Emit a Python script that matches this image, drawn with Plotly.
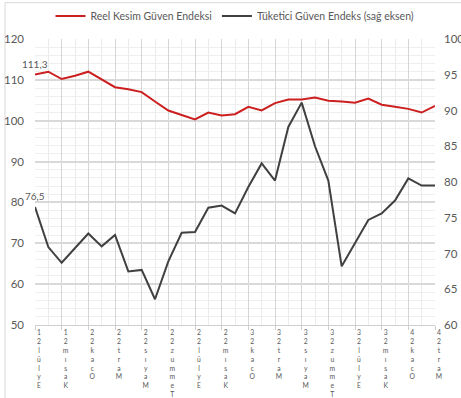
import plotly.graph_objects as go

# Monthly observations, Eylül 2021 – Mart 2024
months = list(range(31))

reel_kesim = [111.3, 112.0, 110.2, 111.0, 112.0, 110.2, 108.2, 107.7, 107.0, 104.7,
              102.5, 101.4, 100.3, 102.0, 101.3, 101.6, 103.4, 102.5, 104.3, 105.2,
              105.2, 105.7, 104.9, 104.7, 104.4, 105.4, 103.9, 103.4, 102.9, 102.0,
              103.6]

tuketici = [76.5, 70.9, 68.7, 70.8, 72.8, 71.0, 72.6, 67.5, 67.7, 63.6,
            68.9, 72.9, 73.0, 76.4, 76.7, 75.6, 79.3, 82.6, 80.2, 87.7,
            91.1, 85.0, 80.2, 68.2, 71.5, 74.7, 75.6, 77.4, 80.5, 79.5,
            79.5]

# Axis labels every two months
tick_months = list(range(0, 31, 2))
tick_labels = ["Eylül 21", "Kasım 21", "Ocak 22", "Mart 22", "Mayıs 22", "Temmuz 22",
               "Eylül 22", "Kasım 22", "Ocak 23", "Mart 23", "Mayıs 23", "Temmuz 23",
               "Eylül 23", "Kasım 23", "Ocak 24", "Mart 24"]


def stacked(label):
    # vertical label, read from bottom to top, one glyph per line
    chars = [c for c in label[::-1] if c != " "]
    return "<br>".join(chars)


def tr_number(v):
    return f"{v:.1f}".replace(".", ",")


font_family = "Lato, 'Open Sans', sans-serif"
text_grey = "#595959"

fig = go.Figure()

fig.add_trace(go.Scatter(
    x=months, y=reel_kesim, name="Reel Kesim Güven Endeksi",
    mode="lines", line=dict(color="#cc1f1f", width=2),
))

fig.add_trace(go.Scatter(
    x=months, y=tuketici, name="Tüketici Güven Endeks (sağ eksen)",
    mode="lines", yaxis="y2", line=dict(color="#404040", width=2),
))

# value labels on the first observation of each series
value_labels = [
    dict(x=months[0], y=reel_kesim[0], yref="y", text=tr_number(reel_kesim[0])),
    dict(x=months[0], y=tuketici[0], yref="y2", text=tr_number(tuketici[0])),
]
annotations = [
    dict(xref="x", showarrow=False, yshift=11,
         font=dict(size=10, color=text_grey, family=font_family), **lab)
    for lab in value_labels
]

fig.update_layout(
    width=461, height=398,
    margin=dict(l=35, r=26, t=39, b=73, autoexpand=False),
    paper_bgcolor="white", plot_bgcolor="white",
    font=dict(family=font_family, color=text_grey, size=11),
    showlegend=True,
    legend=dict(orientation="h", x=0.5, xanchor="center", y=1.08, yanchor="middle",
                font=dict(size=10.5, color=text_grey), itemwidth=30,
                bgcolor="rgba(0,0,0,0)"),
    annotations=annotations,
    xaxis=dict(
        range=[0, 30], tickvals=tick_months,
        ticktext=[stacked(t) for t in tick_labels],
        tickangle=0, tickfont=dict(size=6.8, color=text_grey),
        showgrid=True, gridcolor="#d6d6d6", gridwidth=1,
        minor=dict(dtick=1, showgrid=True, gridcolor="#ebebeb", gridwidth=1),
        showline=True, linecolor="#d0d0d0", linewidth=1,
        ticks="outside", ticklen=4, tickcolor="#d0d0d0",
        zeroline=False, ticklabelshift=4, ticklabelstandoff=-3,
        automargin=False,
    ),
    yaxis=dict(
        range=[50, 120], dtick=10,
        showgrid=True, gridcolor="#d9d9d9", gridwidth=1.5,
        minor=dict(dtick=2, showgrid=True, gridcolor="#efefef", gridwidth=1),
        zeroline=False, showline=False,
        tickfont=dict(size=11.5, color=text_grey),
        ticklabelstandoff=10, automargin=False,
    ),
    yaxis2=dict(
        range=[60, 100], dtick=5, overlaying="y", side="right",
        showgrid=False, zeroline=False, showline=False,
        tickfont=dict(size=11.5, color=text_grey),
        ticklabelstandoff=8, automargin=False,
    ),
    shapes=[dict(type="rect", xref="paper", yref="paper",
                 x0=-0.075, x1=1.3, y0=-0.6, y1=1.127,
                 line=dict(color="#d9d9d9", width=1), fillcolor="rgba(0,0,0,0)",
                 layer="below")],
)

fig.write_html("out.html")
